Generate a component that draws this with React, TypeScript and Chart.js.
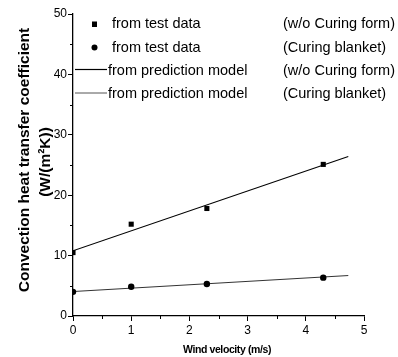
import { useEffect, useRef } from "react";
import { Chart, registerables } from "chart.js";

Chart.register(...registerables);

// Measured convection coefficients, W/(m²K), against wind velocity (m/s)
const windSpeed = [0, 1, 2.3, 4.3];
const hNoForm = [10.5, 15.2, 17.8, 25.1];
const hBlanket = [4.0, 4.85, 5.3, 6.35];

// Prediction model lines
const modelSpeed = [0, 4.73];
const modelNoForm = [10.8, 26.4];
const modelBlanket = [4.05, 6.7];

const xMinorTicks = [0.5, 1.5, 2.5, 3.5, 4.5];
const yMinorTicks = [5, 15, 25, 35, 45];

const legendLeft = ["from test data", "from test data", "from prediction model", "from prediction model"];
const legendRight = ["(w/o Curing form)", "(Curing blanket)", "(w/o Curing form)", "(Curing blanket)"];

const yTitle = "Convection heat transfer coefficient";
const yUnit = "(W/(m²K))";
const xTitle = "Wind velocity (m/s)";

const FONT = "'Liberation Sans', Arial, sans-serif";

const pts = (xs: number[], ys: number[]) => xs.map((x, i) => ({ x, y: ys[i] }));

const decorPlugin = {
  id: "decor",
  afterDraw(chart: any) {
    const { ctx, chartArea, scales } = chart;
    const xs = scales.x;
    const ys = scales.y;
    ctx.save();
    ctx.strokeStyle = "#000";
    ctx.lineWidth = 1;
    // minor ticks
    yMinorTicks.forEach((v) => {
      const p = Math.round(ys.getPixelForValue(v)) + 0.5;
      ctx.beginPath();
      ctx.moveTo(chartArea.left - 3, p);
      ctx.lineTo(chartArea.left, p);
      ctx.stroke();
    });
    xMinorTicks.forEach((v) => {
      const p = Math.round(xs.getPixelForValue(v)) + 0.5;
      ctx.beginPath();
      ctx.moveTo(p, chartArea.bottom);
      ctx.lineTo(p, chartArea.bottom + 3);
      ctx.stroke();
    });

    // legend
    const rowY = [24, 47.5, 70.5, 94];
    ctx.fillStyle = "#000";
    ctx.textBaseline = "middle";
    ctx.textAlign = "left";
    ctx.font = `14.5px ${FONT}`;
    rowY.forEach((y, i) => {
      const tx = i < 2 ? 112 : 108;
      ctx.fillText(legendLeft[i], tx, y);
      ctx.fillText(legendRight[i], 283, y);
    });
    // legend symbols
    ctx.fillRect(92, rowY[0] - 2.5, 5, 5.5);
    ctx.beginPath();
    ctx.arc(94.5, rowY[1], 3, 0, Math.PI * 2);
    ctx.fill();
    ctx.lineWidth = 1.2;
    ctx.strokeStyle = "#000";
    ctx.beginPath();
    ctx.moveTo(75, rowY[2] - 1);
    ctx.lineTo(107, rowY[2] - 1);
    ctx.stroke();
    ctx.lineWidth = 1;
    ctx.strokeStyle = "#555";
    ctx.beginPath();
    ctx.moveTo(75, rowY[3] - 1);
    ctx.lineTo(107, rowY[3] - 1);
    ctx.stroke();

    // axis titles
    ctx.fillStyle = "#000";
    ctx.textAlign = "center";
    ctx.font = `bold 15.5px ${FONT}`;
    ctx.save();
    ctx.translate(25, 160);
    ctx.rotate(-Math.PI / 2);
    ctx.fillText(yTitle, 0, 0);
    ctx.restore();
    ctx.save();
    ctx.translate(46, 162);
    ctx.rotate(-Math.PI / 2);
    ctx.fillText(yUnit, 0, 0);
    ctx.restore();

    ctx.font = `bold 10.5px ${FONT}`;
    (ctx as any).letterSpacing = "-0.4px";
    ctx.fillText(xTitle, 227, 350);
    ctx.restore();
  },
};

export default function App() {
  const ref = useRef<HTMLCanvasElement>(null);

  useEffect(() => {
    if (!ref.current) return;
    const chart = new Chart(ref.current, {
      type: "scatter",
      data: {
        datasets: [
          {
            label: "from test data (w/o Curing form)",
            data: pts(windSpeed, hNoForm),
            pointStyle: "rect",
            pointRadius: 3.6,
            backgroundColor: "#000",
            borderColor: "#000",
            borderWidth: 0,
            clip: 0,
          },
          {
            label: "from test data (Curing blanket)",
            data: pts(windSpeed, hBlanket),
            pointStyle: "circle",
            pointRadius: 3.2,
            backgroundColor: "#000",
            borderColor: "#000",
            borderWidth: 0,
            clip: 0,
          },
          {
            label: "from prediction model (w/o Curing form)",
            data: pts(modelSpeed, modelNoForm),
            showLine: true,
            pointRadius: 0,
            borderColor: "#000",
            borderWidth: 1.1,
            clip: 0,
          },
          {
            label: "from prediction model (Curing blanket)",
            data: pts(modelSpeed, modelBlanket),
            showLine: true,
            pointRadius: 0,
            borderColor: "#333",
            borderWidth: 1,
            clip: 0,
          },
        ],
      },
      options: {
        responsive: false,
        animation: false,
        layout: { padding: { left: 0, top: 14, right: 34, bottom: 0 } },
        plugins: {
          legend: { display: false },
          tooltip: { enabled: false },
        },
        scales: {
          x: {
            type: "linear",
            min: 0,
            max: 5,
            ticks: {
              stepSize: 1,
              color: "#000",
              padding: 2,
              font: { family: FONT, size: 12 },
            },
            grid: {
              display: true,
              drawOnChartArea: false,
              drawTicks: true,
              tickLength: 5,
              color: "#000",
            },
            border: { display: true, color: "#000", width: 1.3 },
            afterFit(scale: any) {
              scale.height = 41;
            },
          },
          y: {
            type: "linear",
            min: 0,
            max: 50,
            ticks: {
              stepSize: 10,
              color: "#000",
              padding: 1,
              font: { family: FONT, size: 12 },
            },
            grid: {
              display: true,
              drawOnChartArea: false,
              drawTicks: true,
              tickLength: 5,
              color: "#000",
            },
            border: { display: true, color: "#000", width: 1.3 },
            afterFit(scale: any) {
              scale.width = 73;
            },
          },
        },
      },
      plugins: [decorPlugin],
    });
    return () => chart.destroy();
  }, []);

  return (
    <canvas
      ref={ref}
      width={398}
      height={357}
      style={{ position: "fixed", left: 0, top: 0, width: 398, height: 357, background: "#fff" }}
    />
  );
}
